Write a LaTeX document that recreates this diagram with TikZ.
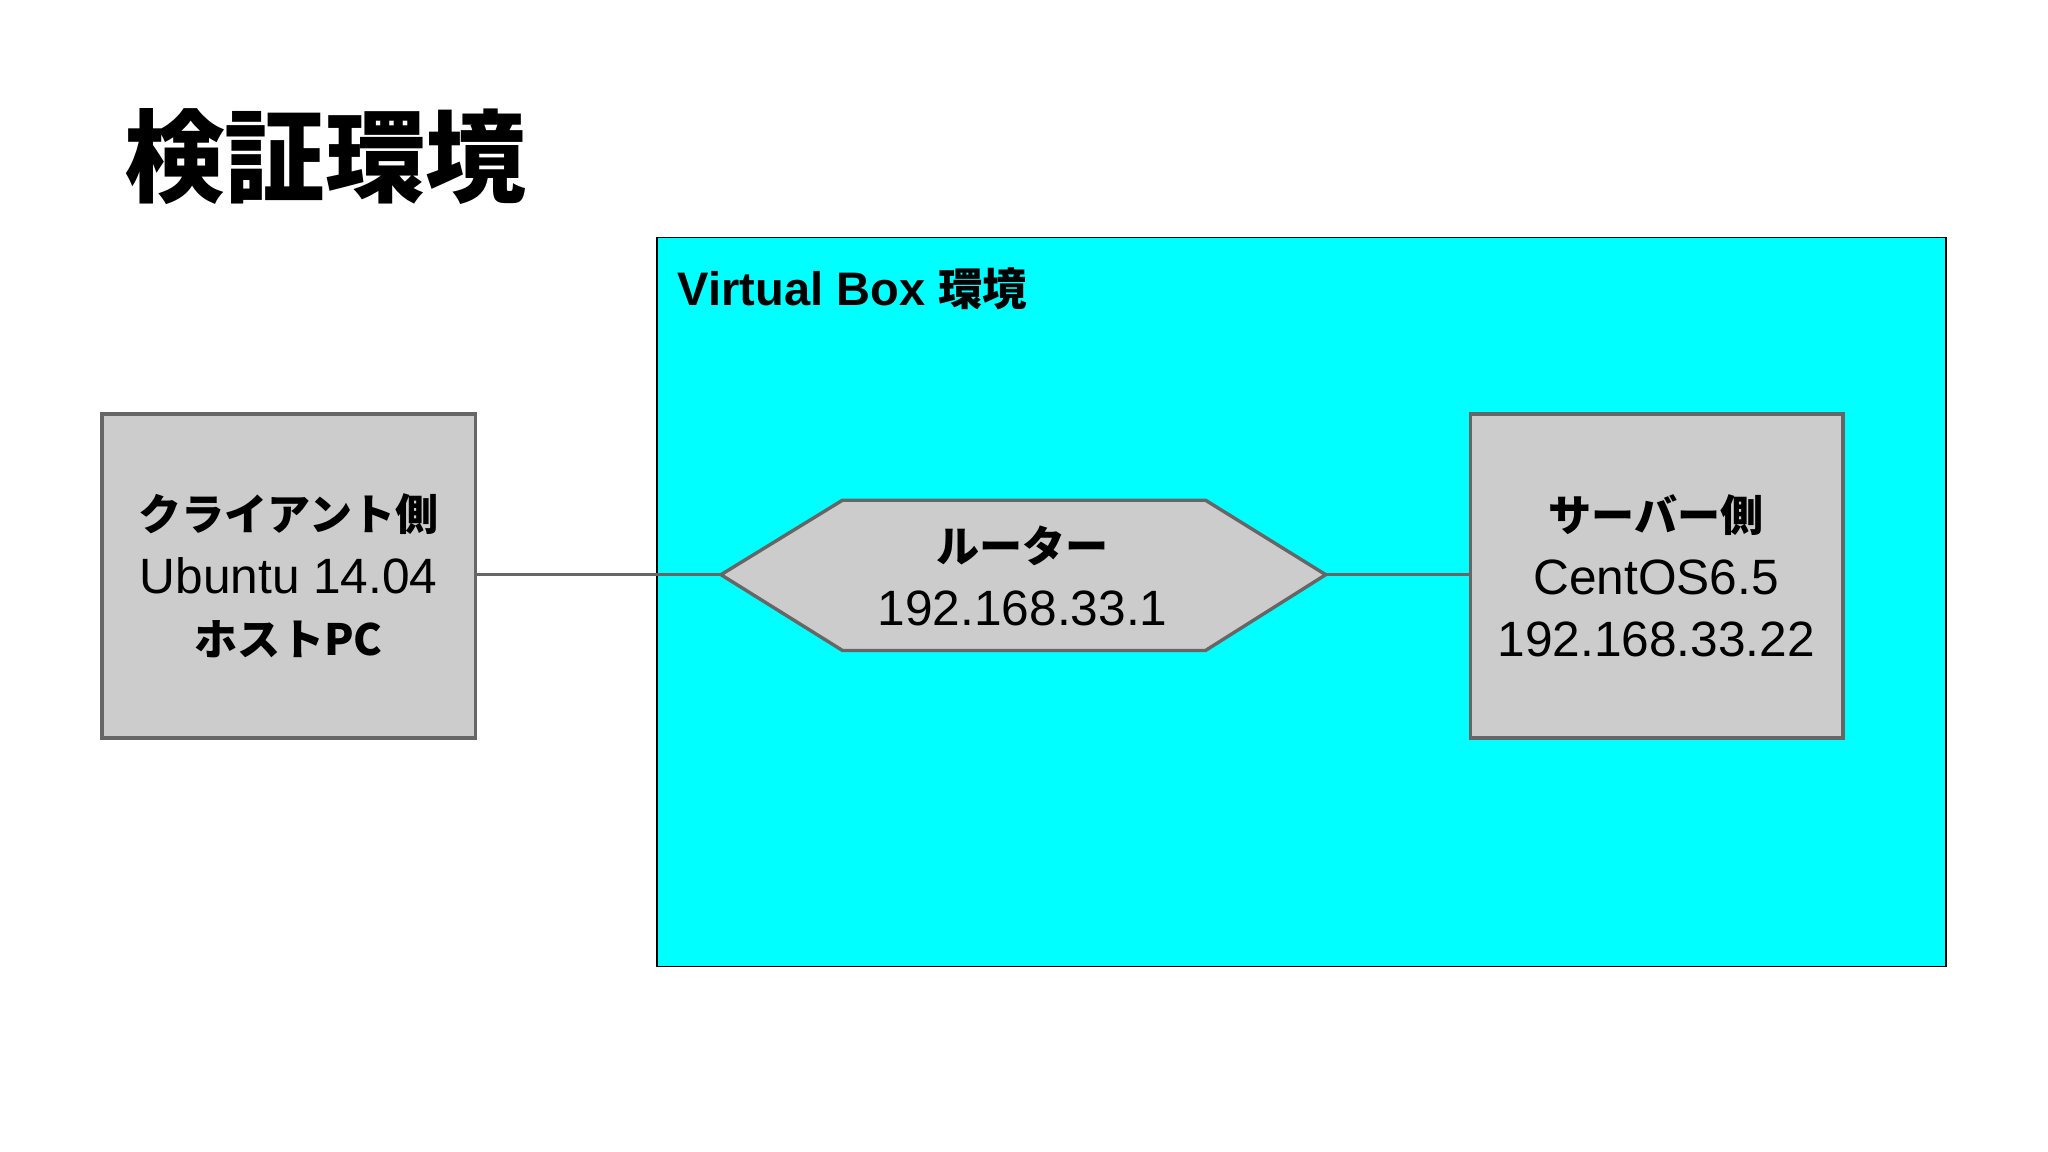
\documentclass[tikz,border=0pt]{standalone}
\usepackage{fontspec}
\setmainfont{Liberation Sans}
\newfontfamily\jp{Noto Sans CJK JP}
\definecolor{vbcyan}{RGB}{0,255,255}
\tikzset{
  box/.style={draw=black!60,line width=1.3pt,fill=black!20},
  conn/.style={draw=black!60,line width=1pt},
  lbl/.style={font=\fontsize{19}{24}\selectfont,align=center},
}
\newcommand{\jb}[1]{{\jp\bfseries\fontsize{16.5}{24}\selectfont #1}}
\begin{document}
\begin{tikzpicture}[x=0.5pt,y=-0.5pt]
\useasboundingbox (0,0) rectangle (1568,882);
\node[anchor=west,font=\jp\bfseries\fontsize{38.5}{46}\selectfont] (title) at (88,120) {検証環境};
\draw[fill=vbcyan,draw=black,line width=0.6pt] (503,182) rectangle (1490,740);
\node[anchor=west,font=\bfseries\fontsize{18}{22}\selectfont] (vb) at (512,221) {Virtual Box {\jp\bfseries\fontsize{17}{22}\selectfont 環境}};
\draw[box] (78,317) rectangle (364,565);
\coordinate (cl) at (364,440);
\node[lbl] (client) at (221,441) {\jb{クライアント側}\\Ubuntu 14.04\\\jb{ホストPC}};
\coordinate (h1) at (552,440); \coordinate (h2) at (645,383); \coordinate (h3) at (923,383);
\coordinate (h4) at (1015,440); \coordinate (h5) at (923,498); \coordinate (h6) at (645,498);
\draw[box] (h1)--(h2)--(h3)--(h4)--(h5)--(h6)--cycle;
\node[lbl] (router) at (783,441) {\jb{ルーター}\\192.168.33.1};
\draw[box] (1126,317) rectangle (1411,565);
\coordinate (sl) at (1126,440);
\node[lbl] (server) at (1268,441) {\jb{サーバー側}\\CentOS6.5\\192.168.33.22};
\draw[conn] (cl)--(h1);
\draw[conn] (h4)--(sl);
\end{tikzpicture}
\end{document}
